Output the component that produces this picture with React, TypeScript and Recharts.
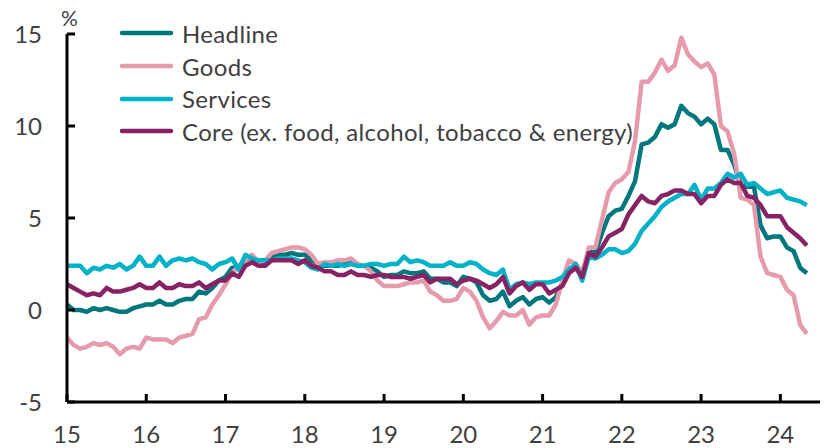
import React from "react";
import { LineChart, Line, XAxis, YAxis } from "recharts";

// UK CPI, % y/y, monthly Jan 2015 – May 2024
const headline = [
  0.3, 0.0, 0.0, -0.1, 0.1, 0.0, 0.1, 0.0, -0.1, -0.1, 0.1, 0.2,
  0.3, 0.3, 0.5, 0.3, 0.3, 0.5, 0.6, 0.6, 1.0, 0.9, 1.2, 1.6,
  1.8, 2.3, 2.3, 2.7, 2.9, 2.6, 2.6, 2.9, 3.0, 3.0, 3.1, 3.0,
  3.0, 2.7, 2.5, 2.4, 2.4, 2.4, 2.5, 2.7, 2.4, 2.4, 2.3, 2.1,
  1.8, 1.9, 1.9, 2.1, 2.0, 2.0, 2.1, 1.7, 1.7, 1.5, 1.5, 1.3,
  1.8, 1.7, 1.5, 0.8, 0.5, 0.6, 1.0, 0.2, 0.5, 0.7, 0.3, 0.6,
  0.7, 0.4, 0.7, 1.5, 2.1, 2.5, 2.0, 3.2, 3.1, 4.2, 5.1, 5.4,
  5.5, 6.2, 7.0, 9.0, 9.1, 9.4, 10.1, 9.9, 10.1, 11.1, 10.7, 10.5,
  10.1, 10.4, 10.1, 8.7, 8.7, 7.9, 6.8, 6.7, 6.7, 4.6, 3.9, 4.0,
  4.0, 3.4, 3.2, 2.3, 2.0,
];

const goods = [
  -1.5, -1.9, -2.1, -2.0, -1.8, -1.9, -1.8, -2.0, -2.4, -2.1, -2.0, -2.1,
  -1.5, -1.6, -1.6, -1.6, -1.8, -1.5, -1.4, -1.3, -0.5, -0.4, 0.3, 0.8,
  1.4, 2.0, 2.4, 2.7, 3.0, 2.6, 2.7, 3.1, 3.2, 3.3, 3.4, 3.4,
  3.3, 3.0, 2.5, 2.6, 2.6, 2.7, 2.7, 2.8, 2.5, 2.4, 2.1, 1.6,
  1.3, 1.3, 1.3, 1.4, 1.5, 1.5, 1.6, 1.0, 0.8, 0.5, 0.5, 0.6,
  1.2, 1.0, 0.5, -0.4, -1.0, -0.6, -0.1, -0.3, -0.3, 0.0, -0.8, -0.4,
  -0.3, -0.3, 0.3, 1.6, 2.7, 2.5, 2.0, 3.4, 3.4, 4.9, 6.4, 6.9,
  7.1, 7.5, 9.2, 12.4, 12.4, 12.9, 13.6, 13.0, 13.3, 14.8, 13.9, 13.5,
  13.2, 13.4, 12.8, 10.0, 9.7, 8.5, 6.1, 6.0, 5.7, 2.9, 2.0, 1.9,
  1.8, 1.1, 0.8, -0.8, -1.3,
];

const services = [
  2.4, 2.4, 2.4, 2.0, 2.3, 2.2, 2.4, 2.3, 2.5, 2.2, 2.4, 2.9,
  2.4, 2.4, 2.9, 2.4, 2.7, 2.8, 2.7, 2.8, 2.6, 2.5, 2.2, 2.5,
  2.6, 2.8, 2.2, 3.0, 2.8, 2.7, 2.7, 2.7, 2.8, 2.8, 2.8, 2.7,
  2.6, 2.3, 2.2, 2.5, 2.4, 2.5, 2.4, 2.5, 2.4, 2.4, 2.5, 2.5,
  2.4, 2.5, 2.5, 2.9, 2.6, 2.7, 2.6, 2.4, 2.4, 2.4, 2.6, 2.4,
  2.4, 2.6, 2.5, 2.2, 2.0, 1.9, 2.2, 1.1, 1.4, 1.5, 1.4, 1.5,
  1.5, 1.5, 1.6, 1.8, 2.2, 2.5, 1.6, 2.9, 2.8, 3.0, 3.3, 3.3,
  3.1, 3.2, 3.6, 4.3, 4.7, 5.1, 5.6, 5.9, 6.1, 6.3, 6.3, 6.8,
  6.0, 6.6, 6.6, 6.9, 7.4, 7.2, 7.4, 6.8, 6.9, 6.6, 6.3, 6.4,
  6.5, 6.1, 6.0, 5.9, 5.7,
];

const core = [
  1.4, 1.2, 1.0, 0.8, 0.9, 0.8, 1.2, 1.0, 1.0, 1.1, 1.2, 1.4,
  1.2, 1.2, 1.5, 1.2, 1.2, 1.4, 1.3, 1.3, 1.5, 1.2, 1.4, 1.6,
  1.6, 2.0, 1.8, 2.4, 2.6, 2.4, 2.4, 2.7, 2.7, 2.7, 2.7, 2.5,
  2.7, 2.4, 2.3, 2.1, 2.1, 1.9, 1.9, 2.1, 1.9, 1.9, 1.8, 1.9,
  1.9, 1.8, 1.8, 1.8, 1.7, 1.8, 1.9, 1.5, 1.7, 1.7, 1.7, 1.4,
  1.6, 1.7, 1.6, 1.4, 1.2, 1.4, 1.8, 0.9, 1.3, 1.5, 1.1, 1.4,
  1.4, 0.9, 1.1, 1.3, 2.0, 2.3, 1.8, 3.1, 2.9, 3.4, 4.0, 4.2,
  4.4, 5.2, 5.7, 6.2, 5.9, 5.8, 6.2, 6.3, 6.5, 6.5, 6.3, 6.3,
  5.8, 6.2, 6.2, 6.8, 7.1, 6.9, 6.9, 6.2, 6.1, 5.7, 5.1, 5.1,
  5.1, 4.5, 4.2, 3.9, 3.5,
];

const yearLabels = ["15", "16", "17", "18", "19", "20", "21", "22", "23", "24"];
const yTicks = [-5, 0, 5, 10, 15];

const series = [
  { key: "headline", name: "Headline", color: "#00767D" },
  { key: "goods", name: "Goods", color: "#E69BAC" },
  { key: "services", name: "Services", color: "#00B2C8" },
  { key: "core", name: "Core (ex. food, alcohol, tobacco & energy)", color: "#872364" },
];

const data = headline.map((v, i) => ({
  i,
  headline: v,
  goods: goods[i],
  services: services[i],
  core: core[i],
}));

const FONT = "Lato, 'Noto Sans', sans-serif";
const TEXT = "#404040";
const tickStyle = { fill: TEXT, fontSize: 24, fontFamily: FONT };

export default function App() {
  return (
    <div style={{ position: "absolute", left: 0, top: 0, width: 824, height: 448, background: "#fff" }}>
      <LineChart width={824} height={448} data={data} margin={{ top: 34, right: 4, bottom: 0, left: 0 }}>
        <XAxis
          dataKey="i"
          type="number"
          domain={[0, 114]}
          ticks={yearLabels.map((_, k) => k * 12)}
          tickFormatter={(v: number) => yearLabels[v / 12]}
          axisLine={{ stroke: "#000", strokeWidth: 3 }}
          tickLine={{ stroke: "#000", strokeWidth: 3 }}
          tickSize={-8}
          tickMargin={32}
          height={46}
          tick={tickStyle}
          interval={0}
        />
        <YAxis
          domain={[-5, 15]}
          ticks={yTicks}
          axisLine={{ stroke: "#000", strokeWidth: 3 }}
          tickLine={{ stroke: "#000", strokeWidth: 3 }}
          tickSize={-8}
          tickMargin={33}
          width={67}
          tick={tickStyle}
          interval={0}
        />
        {series.map((s) => (
          <Line
            key={s.key}
            type="linear"
            dataKey={s.key}
            name={s.name}
            stroke={s.color}
            strokeWidth={4.5}
            strokeLinejoin="round"
            dot={false}
            activeDot={false}
            isAnimationActive={false}
          />
        ))}
      </LineChart>

      {/* unit label above the y axis */}
      <div style={{ position: "absolute", left: 61, top: 5, fontFamily: FONT, fontSize: 21, color: TEXT }}>%</div>

      {/* legend, top left inside the plot */}
      <div
        style={{
          position: "absolute",
          left: 119,
          top: 17,
          fontFamily: FONT,
          fontSize: 24,
          letterSpacing: 0.35,
          color: TEXT,
        }}
      >
        {series.map((s) => (
          <div key={s.key} style={{ display: "flex", alignItems: "center", height: 32.7, whiteSpace: "nowrap" }}>
            <svg width={63} height={8} style={{ flex: "none" }}>
              <line x1={3} y1={4} x2={52} y2={4} stroke={s.color} strokeWidth={4.5} strokeLinecap="round" />
            </svg>
            <span>{s.name}</span>
          </div>
        ))}
      </div>
    </div>
  );
}
